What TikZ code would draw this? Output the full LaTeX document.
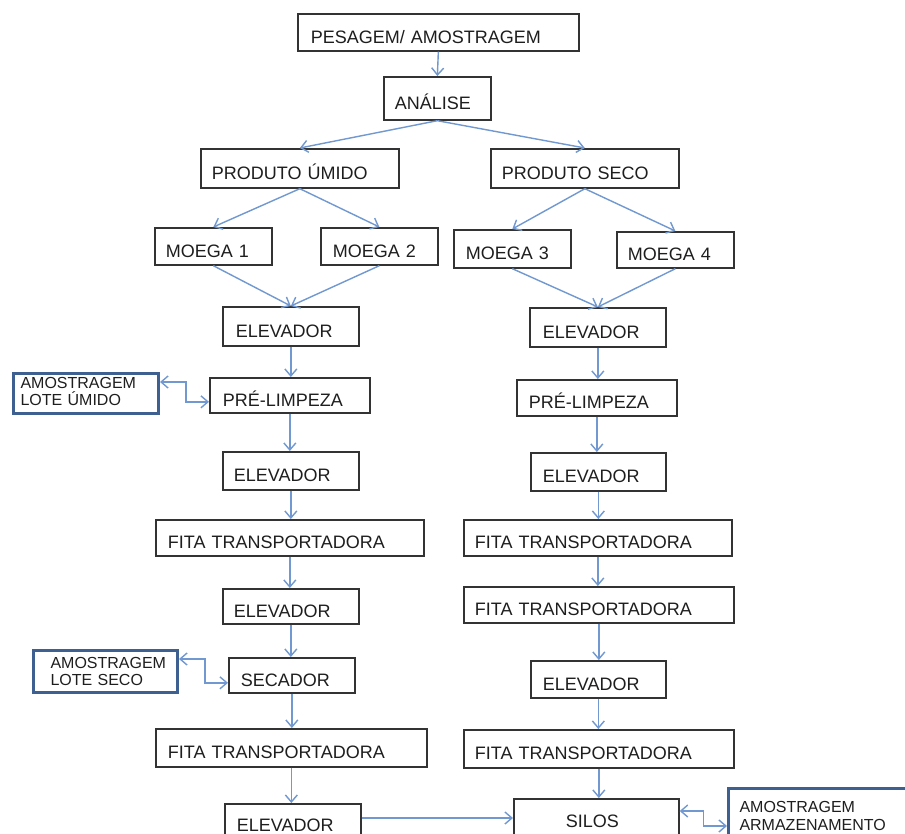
\documentclass[tikz,border=0pt]{standalone}
\usepackage{fontspec}
\setmainfont{Liberation Sans}
\usetikzlibrary{arrows.meta,calc}
\definecolor{arrowblue}{HTML}{7198D0}
\definecolor{boxgray}{HTML}{333333}
\definecolor{amostblue}{HTML}{3E6090}
\definecolor{txtgray}{HTML}{1E1E1E}
% style, name, x1, y1, x2, y2, text start x, text
\newcommand{\flowbox}[8]{%
  \pgfmathsetmacro{\fbw}{#5-#3}%
  \pgfmathsetmacro{\fbh}{#6-#4}%
  \pgfmathsetmacro{\fbp}{#7-#3}%
  \pgfmathsetmacro{\fbt}{\fbw-2*\fbp}%
  \node[#1, anchor=north west, minimum width=\fbw pt, minimum height=\fbh pt,
        inner xsep=\fbp pt, text width=\fbt pt] (#2) at (#3,#4) {#8};}
\begin{document}
\begin{tikzpicture}[x=1pt,y=-1pt,
  box/.style={draw=boxgray, line width=1.7pt, font=\fontsize{18}{21}\selectfont,
    text=txtgray, align=left, inner ysep=0pt, text height=22pt, text depth=0pt},
  amost/.style={draw=amostblue, line width=3pt, font=\fontsize{16}{17.5}\selectfont,
    text=txtgray, align=left, inner ysep=0pt},
  arr/.style={draw=arrowblue, line width=1.4pt, -{Straight Barb[length=7pt,width=12pt]}},
  darr/.style={draw=arrowblue, line width=1.4pt,
    {Straight Barb[length=7pt,width=12pt]}-{Straight Barb[length=7pt,width=12pt]}}]
\useasboundingbox (0,0) rectangle (905,834);
\fill[white] (0,0) rectangle (905,834);
\clip (0,0) rectangle (905,834);

% top
\flowbox{box}{pes}{297}{13}{578}{50}{310}{PESAGEM/ AMOSTRAGEM}
\flowbox{box}{ana}{383}{76}{490}{119}{394}{ANÁLISE}
\flowbox{box}{pu}{200}{148}{398}{187}{211}{PRODUTO ÚMIDO}
\flowbox{box}{ps}{490}{148}{678}{187}{501}{PRODUTO SECO}
\flowbox{box}{m1}{154}{227}{271}{264}{165}{MOEGA 1}
\flowbox{box}{m2}{320}{227}{437}{264}{332}{MOEGA 2}
\flowbox{box}{m3}{453}{229}{570}{267}{465}{MOEGA 3}
\flowbox{box}{m4}{616}{231}{733}{267}{627}{MOEGA 4}

% left column
\flowbox{box}{e1L}{222}{306}{358}{345}{235}{ELEVADOR}
\flowbox{box}{plL}{209}{377}{369}{412}{222}{PRÉ-LIMPEZA}
\flowbox{box}{e2L}{222}{451}{358}{489}{233}{ELEVADOR}
\flowbox{box}{fL}{155}{519}{423}{555}{167}{FITA TRANSPORTADORA}
\flowbox{box}{e3L}{222}{588}{358}{623}{233}{ELEVADOR}
\flowbox{box}{secL}{228}{657}{354}{692}{240}{SECADOR}
\flowbox{box}{fL2}{155}{728}{426}{766}{167}{FITA TRANSPORTADORA}
\flowbox{box, text height=28pt, text depth=19pt}{e4L}{224}{803}{360}{850}{236}{ELEVADOR}

% right column
\flowbox{box}{e1R}{529}{307}{665}{346}{542}{ELEVADOR}
\flowbox{box}{plR}{516}{379}{676}{415}{528}{PRÉ-LIMPEZA}
\flowbox{box}{e2R}{530}{452}{665}{490}{542}{ELEVADOR}
\flowbox{box}{fR1}{463}{519}{731}{555}{474}{FITA TRANSPORTADORA}
\flowbox{box}{fR2}{463}{586}{733}{622}{474}{FITA TRANSPORTADORA}
\flowbox{box}{e3R}{530}{660}{665}{697}{542}{ELEVADOR}
\flowbox{box}{fR3}{463}{729}{733}{767}{474}{FITA TRANSPORTADORA}
\flowbox{box, text height=29pt, text depth=23pt}{silos}{513}{798}{678}{850}{565}{SILOS}

% sampling boxes
\flowbox{amost, text height=14.5pt, text depth=25.5pt}{aU}{12}{372}{157}{412}{19}{\mbox{AMOSTRAGEM}\\\mbox{LOTE ÚMIDO}}
\flowbox{amost, text height=17.5pt, text depth=24.5pt}{aS}{32}{649}{176}{691}{49}{\mbox{AMOSTRAGEM}\\\mbox{LOTE SECO}}
\flowbox{amost, text height=24pt, text depth=59pt}{aA}{727}{787}{920}{870}{738}{\mbox{AMOSTRAGEM}\\\mbox{ARMAZENAMENTO}}

% connectors: top
\draw[arr] (pes.south) -- (ana.north);
\draw[arr] (ana.south) -- (pu.north);
\draw[arr] (ana.south) -- (ps.north);
\draw[arr] (pu.south) -- (m1.north);
\draw[arr] (pu.south) -- (m2.north);
\draw[arr] (ps.south) -- (m3.north);
\draw[arr] (ps.south) -- (m4.north);
\draw[arr] (m1.south) -- (e1L.north);
\draw[arr] (m2.south) -- (e1L.north);
\draw[arr] (m3.south) -- (e1R.north);
\draw[arr] (m4.south) -- (e1R.north);

% left column
\draw[arr] (e1L.south) -- (e1L.south |- plL.north);
\draw[arr] (plL.south) -- (plL.south |- e2L.north);
\draw[arr] (e2L.south) -- (e2L.south |- fL.north);
\draw[arr] (fL.south) -- (fL.south |- e3L.north);
\draw[arr] (e3L.south) -- (e3L.south |- secL.north);
\draw[arr] (secL.south) -- (secL.south |- fL2.north);
\draw[arr] (fL2.south) -- (fL2.south |- e4L.north);

% right column
\draw[arr] (e1R.south) -- (e1R.south |- plR.north);
\draw[arr] (plR.south) -- (plR.south |- e2R.north);
\draw[arr] (e2R.south) -- (e2R.south |- fR1.north);
\draw[arr] (fR1.south) -- (fR1.south |- fR2.north);
\draw[arr] (fR2.south) -- (fR2.south |- e3R.north);
\draw[arr] (e3R.south) -- (e3R.south |- fR3.north);
\draw[arr] (fR3.south) -- (fR3.south |- silos.north);

% elevador to silos
\coordinate (eo) at ($(e4L.north east)+(0,15)$);
\draw[arr] (eo) -- (eo -| silos.west);

% sampling links
\draw[darr] ($(aU.north east)+(0,10)$) -- ++(26,0) |- ($(plL.west)+(0,6.5)$);
\draw[darr] ($(aS.north east)+(0,10)$) -- ++(26,0) |- ($(secL.west)+(0,7.5)$);
\draw[darr] ($(silos.north east)+(0,13)$) -- ++(24,0) |- ($(aA.north west)+(0,39)$);
\end{tikzpicture}
\end{document}
